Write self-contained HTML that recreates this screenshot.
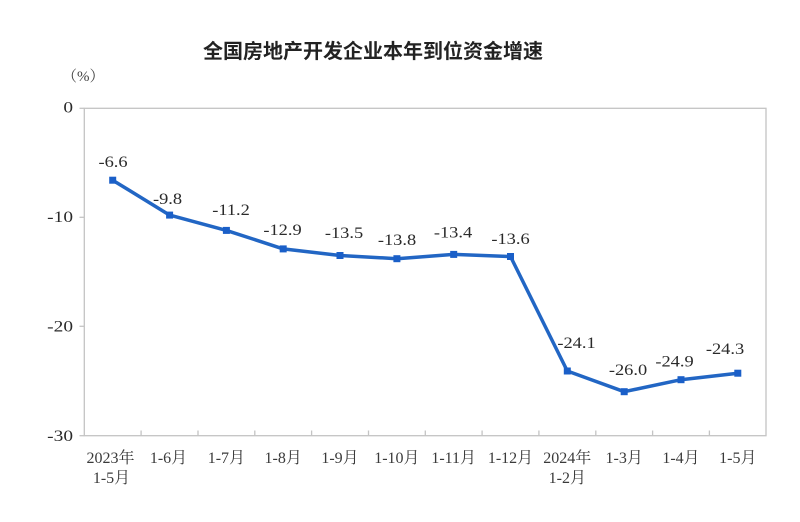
<!DOCTYPE html>
<html>
<head>
<meta charset="utf-8">
<style>
  html,body{margin:0;padding:0;background:#fff;}
  svg{display:block;}
  .num{font-family:"Liberation Serif","Noto Serif CJK SC",serif;font-size:15px;fill:#2a2a2a;}
  .cat{font-family:"Liberation Serif","Noto Serif CJK SC",serif;font-size:16px;fill:#3a3a3a;}
</style>
</head>
<body>
<svg width="800" height="522" viewBox="0 0 800 522" xmlns="http://www.w3.org/2000/svg">
  <rect width="800" height="522" fill="#fff"/>
  <!-- title -->
  <text x="373" y="58" text-anchor="middle" font-family="'Liberation Sans','Noto Sans CJK SC',sans-serif" font-size="20" font-weight="bold" fill="#222">全国房地产开发企业本年到位资金增速</text>
  <!-- unit -->
  <text x="62" y="81" font-family="'Liberation Serif','Noto Serif CJK SC',serif" font-size="15" fill="#444">（%）</text>

  <!-- plot frame -->
  <rect x="84.3" y="108.3" width="681.7" height="327.4" fill="none" stroke="#c4c4c4" stroke-width="1.3"/>
  <!-- left ticks -->
  <g stroke="#c4c4c4" stroke-width="1.3">
    <line x1="79.5" y1="108.3" x2="84.3" y2="108.3"/>
    <line x1="79.5" y1="217.3" x2="84.3" y2="217.3"/>
    <line x1="79.5" y1="326.3" x2="84.3" y2="326.3"/>
    <line x1="79.5" y1="435.7" x2="84.3" y2="435.7"/>
  </g>
  <!-- bottom ticks -->
  <g stroke="#c4c4c4" stroke-width="1.3">
    <line x1="141.1" y1="430.5" x2="141.1" y2="435.7"/>
    <line x1="198.0" y1="430.5" x2="198.0" y2="435.7"/>
    <line x1="254.8" y1="430.5" x2="254.8" y2="435.7"/>
    <line x1="311.6" y1="430.5" x2="311.6" y2="435.7"/>
    <line x1="368.5" y1="430.5" x2="368.5" y2="435.7"/>
    <line x1="425.3" y1="430.5" x2="425.3" y2="435.7"/>
    <line x1="482.1" y1="430.5" x2="482.1" y2="435.7"/>
    <line x1="538.9" y1="430.5" x2="538.9" y2="435.7"/>
    <line x1="595.8" y1="430.5" x2="595.8" y2="435.7"/>
    <line x1="652.6" y1="430.5" x2="652.6" y2="435.7"/>
    <line x1="709.4" y1="430.5" x2="709.4" y2="435.7"/>
  </g>

  <!-- y labels -->
  <g class="num" text-anchor="end" style="font-size:15.5px">
    <text transform="translate(73,112.5) scale(1.25,1)">0</text>
    <text transform="translate(73,222) scale(1.25,1)">-10</text>
    <text transform="translate(73,331.5) scale(1.25,1)">-20</text>
    <text transform="translate(73,441) scale(1.25,1)">-30</text>
  </g>

  <!-- x labels -->
  <g class="cat" text-anchor="middle">
    <text x="110.5" y="463">2023年</text>
    <text x="111.5" y="483">1-5月</text>
    <text x="168.5" y="463">1-6月</text>
    <text x="226.4" y="463">1-7月</text>
    <text x="283.2" y="463">1-8月</text>
    <text x="340.0" y="463">1-9月</text>
    <text x="396.9" y="463">1-10月</text>
    <text x="453.7" y="463">1-11月</text>
    <text x="510.5" y="463">1-12月</text>
    <text x="567.3" y="463">2024年</text>
    <text x="567.3" y="483">1-2月</text>
    <text x="624.2" y="463">1-3月</text>
    <text x="681.0" y="463">1-4月</text>
    <text x="737.8" y="463">1-5月</text>
  </g>

  <!-- series line -->
  <polyline fill="none" stroke="#2266c4" stroke-width="3.5" stroke-linejoin="round"
    points="112.7,180.2 169.6,215.1 226.4,230.4 283.2,248.9 340.0,255.5 396.9,258.7 453.7,254.4 510.5,256.5 567.3,371.0 624.2,391.7 681.0,379.7 737.8,373.2"/>
  <!-- markers -->
  <g fill="#1a5fc8">
    <rect x="109.2" y="176.7" width="7" height="7"/>
    <rect x="166.1" y="211.6" width="7" height="7"/>
    <rect x="222.9" y="226.9" width="7" height="7"/>
    <rect x="279.7" y="245.4" width="7" height="7"/>
    <rect x="336.5" y="252.0" width="7" height="7"/>
    <rect x="393.4" y="255.2" width="7" height="7"/>
    <rect x="450.2" y="250.9" width="7" height="7"/>
    <rect x="507.0" y="253.0" width="7" height="7"/>
    <rect x="563.8" y="367.5" width="7" height="7"/>
    <rect x="620.7" y="388.2" width="7" height="7"/>
    <rect x="677.5" y="376.2" width="7" height="7"/>
    <rect x="734.3" y="369.7" width="7" height="7"/>
  </g>

  <!-- data labels -->
  <g class="num" text-anchor="middle" style="font-size:16px">
    <text transform="translate(113,167) scale(1.15,1)">-6.6</text>
    <text transform="translate(167.5,204) scale(1.15,1)">-9.8</text>
    <text transform="translate(231,215) scale(1.15,1)">-11.2</text>
    <text transform="translate(282.5,235) scale(1.15,1)">-12.9</text>
    <text transform="translate(344,238) scale(1.15,1)">-13.5</text>
    <text transform="translate(397,245) scale(1.15,1)">-13.8</text>
    <text transform="translate(453,237.3) scale(1.15,1)">-13.4</text>
    <text transform="translate(510.5,244) scale(1.15,1)">-13.6</text>
    <text transform="translate(576.5,348) scale(1.15,1)">-24.1</text>
    <text transform="translate(628,375) scale(1.15,1)">-26.0</text>
    <text transform="translate(674.5,366.7) scale(1.15,1)">-24.9</text>
    <text transform="translate(725,354) scale(1.15,1)">-24.3</text>
  </g>
</svg>
</body>
</html>
